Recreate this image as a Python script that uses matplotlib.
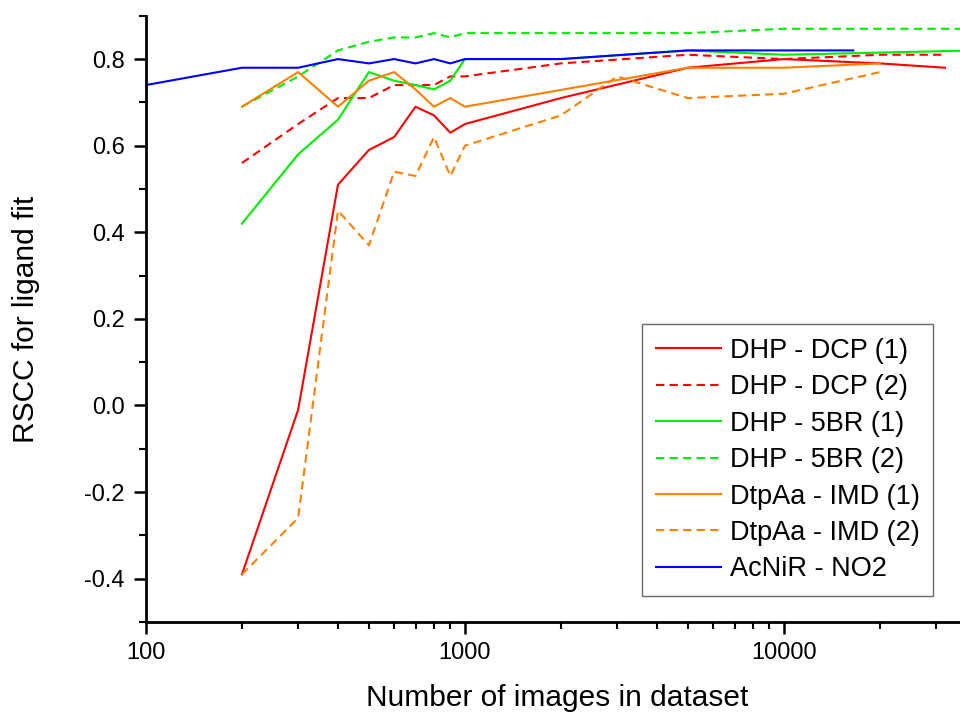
import matplotlib
matplotlib.use("Agg")
import matplotlib.pyplot as plt
from matplotlib.ticker import LogLocator, FixedLocator, MultipleLocator, NullFormatter, FuncFormatter

plt.rcParams['font.family'] = ['Liberation Sans', 'DejaVu Sans']

# data
x_dcp1 = [200, 300, 400, 500, 600, 700, 800, 900, 1000, 2000, 5000, 10000, 20000, 32000]
y_dcp1 = [-0.39, -0.01, 0.51, 0.59, 0.62, 0.69, 0.67, 0.63, 0.65, 0.71, 0.78, 0.80, 0.79, 0.78]

x_dcp2 = [200, 300, 400, 500, 600, 700, 800, 900, 1000, 2000, 5000, 10000, 20000, 32000]
y_dcp2 = [0.56, 0.65, 0.71, 0.71, 0.74, 0.74, 0.74, 0.76, 0.76, 0.79, 0.81, 0.80, 0.81, 0.81]

x_5br1 = [200, 300, 400, 500, 600, 700, 800, 900, 1000, 2000, 5000, 10000, 20000, 40000]
y_5br1 = [0.42, 0.58, 0.66, 0.77, 0.75, 0.74, 0.73, 0.75, 0.80, 0.80, 0.82, 0.81, 0.815, 0.82]

x_5br2 = [200, 300, 400, 500, 600, 700, 800, 900, 1000, 2000, 5000, 10000, 20000, 40000]
y_5br2 = [0.69, 0.76, 0.82, 0.84, 0.85, 0.85, 0.86, 0.85, 0.86, 0.86, 0.86, 0.87, 0.87, 0.87]

x_imd1 = [200, 300, 400, 500, 600, 700, 800, 900, 1000, 5000, 10000, 20000]
y_imd1 = [0.69, 0.77, 0.69, 0.75, 0.77, 0.73, 0.69, 0.71, 0.69, 0.78, 0.78, 0.79]

x_imd2 = [200, 300, 400, 500, 600, 700, 800, 900, 1000, 2000, 3000, 5000, 10000, 20000]
y_imd2 = [-0.39, -0.26, 0.45, 0.37, 0.54, 0.53, 0.62, 0.53, 0.60, 0.67, 0.76, 0.71, 0.72, 0.77]

x_nir = [100, 200, 300, 400, 500, 600, 700, 800, 900, 1000, 2000, 5000, 10000, 16500]
y_nir = [0.74, 0.78, 0.78, 0.80, 0.79, 0.80, 0.79, 0.80, 0.79, 0.80, 0.80, 0.82, 0.82, 0.82]

labels = ["DHP - DCP (1)", "DHP - DCP (2)", "DHP - 5BR (1)", "DHP - 5BR (2)",
          "DtpAa - IMD (1)", "DtpAa - IMD (2)", "AcNiR - NO2"]
x_ticks = [100, 1000, 10000]
y_ticks = [-0.4, -0.2, 0.0, 0.2, 0.4, 0.6, 0.8]

RED = "#ff0000"
GREEN = "#00ee00"
ORANGE = "#ff8000"
BLUE = "#0000ff"

fig = plt.figure(figsize=(9.6, 7.17), dpi=100)
ax = fig.add_axes([0.152, 0.1325, 0.848, 0.8455])

lw = 1.5
dash = (4, 2.5)
series = [
    (x_dcp1, y_dcp1, RED, '-'),
    (x_dcp2, y_dcp2, RED, '--'),
    (x_5br1, y_5br1, GREEN, '-'),
    (x_5br2, y_5br2, GREEN, '--'),
    (x_imd1, y_imd1, ORANGE, '-'),
    (x_imd2, y_imd2, ORANGE, '--'),
    (x_nir, y_nir, BLUE, '-'),
]
for (xs, ys, c, ls), lab in zip(series, labels):
    line, = ax.plot(xs, ys, color=c, lw=lw, linestyle=ls, label=lab)
    if ls == '--':
        line.set_dashes(dash)

ax.set_xscale('log')
ax.set_xlim(100, 10 ** 4.552)
ax.set_ylim(-0.5, 0.9)

ax.xaxis.set_major_locator(FixedLocator(x_ticks))
ax.xaxis.set_major_formatter(FuncFormatter(lambda v, p: f"{int(round(v))}"))
ax.xaxis.set_minor_locator(LogLocator(base=10, subs=range(2, 10)))
ax.xaxis.set_minor_formatter(NullFormatter())

ax.yaxis.set_major_locator(FixedLocator(y_ticks))
ax.yaxis.set_major_formatter(FuncFormatter(lambda v, p: f"{v:.1f}"))
ax.yaxis.set_minor_locator(MultipleLocator(0.1))

for s in ['top', 'right']:
    ax.spines[s].set_visible(False)
for s in ['left', 'bottom']:
    ax.spines[s].set_linewidth(2)

ax.tick_params(which='major', direction='out', length=8.6, width=1.8, labelsize=17)
ax.tick_params(axis='x', which='major', pad=5.5)
ax.tick_params(axis='y', which='major', pad=6.5)
ax.tick_params(which='minor', direction='out', length=5, width=1.5)

ax.set_xlabel("Number of images in dataset", fontsize=21.5)
ax.set_ylabel("RSCC for ligand fit", fontsize=21.5)
ax.xaxis.set_label_coords(0.505, -0.102)
ax.yaxis.set_label_coords(-0.130, 0.5)

leg = ax.legend(loc='lower right', bbox_to_anchor=(0.967, 0.043), fontsize=19.5,
                frameon=True, fancybox=False, handlelength=2.4, handletextpad=0.34,
                borderpad=0.5, labelspacing=0.385, borderaxespad=0)
leg.get_frame().set_edgecolor('#444444')
leg.get_frame().set_linewidth(1.0)

fig.savefig("out.png", dpi=100)
